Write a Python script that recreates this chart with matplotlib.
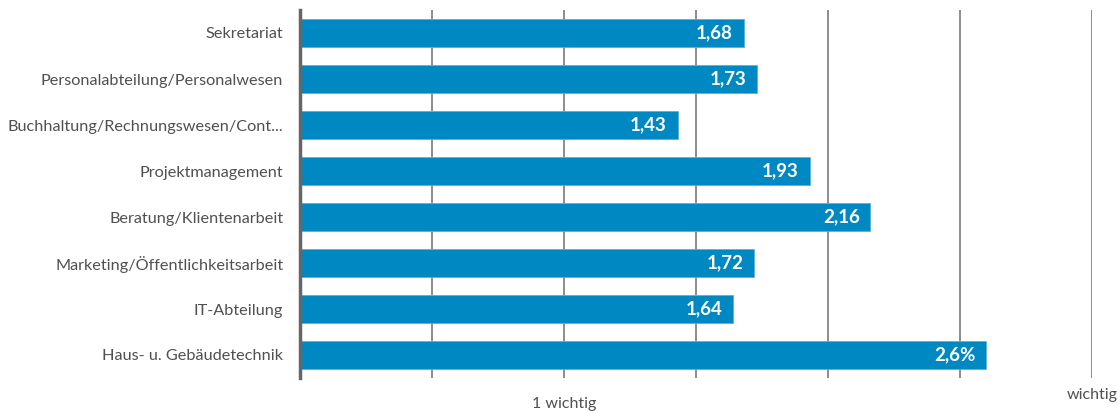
import numpy as np
import matplotlib.pyplot as plt

categories = ['Sekretariat', 'Personalabteilung/Personalwesen',
              'Buchhaltung/Rechnungswesen/Cont...', 'Projektmanagement',
              'Beratung/Klientenarbeit', 'Marketing/Öffentlichkeitsarbeit',
              'IT-Abteilung', 'Haus- u. Gebäudetechnik']
values = [1.68, 1.73, 1.43, 1.93, 2.16, 1.72, 1.64, 2.6]
value_labels = ['1,68', '1,73', '1,43', '1,93', '2,16', '1,72', '1,64', '2,6%']

plt.rcParams['font.family'] = ['Lato', 'DejaVu Sans']

fig = plt.figure(figsize=(11.2, 4.12), dpi=100)
ax = fig.add_axes([300/1120, 34/412, 792/1120, 368/412])

y = np.arange(len(categories))
ax.barh(y, values, height=0.6, color='#0088c2', edgecolor='#5ab0dc',
        linewidth=0.6, zorder=3)
for yi, v, lab in zip(y, values, value_labels):
    ax.text(v - 0.04, yi, lab, ha='right', va='center', color='white',
            fontsize=13.5, fontweight='bold', zorder=4)

ax.set_xlim(0, 3)
ax.set_ylim(len(categories) - 0.5, -0.5)
ax.set_xticks(np.arange(0.5, 3.01, 0.5))
ax.xaxis.grid(True, color='#6e6e6e', linewidth=1.1, zorder=0)
ax.tick_params(axis='x', length=0, labelbottom=False)
ax.set_yticks(y)
ax.set_yticklabels(categories, fontsize=11.7, color='#505050')
ax.tick_params(axis='y', length=0, pad=12)

for s in ['top', 'right', 'bottom']:
    ax.spines[s].set_visible(False)
ax.spines['left'].set_color('#666666')
ax.spines['left'].set_linewidth(2.5)
ax.spines['left'].set_zorder(5)

ax.text(1.0, -0.07, '1 wichtig', transform=ax.get_xaxis_transform(),
        ha='center', va='center', fontsize=11.5, color='#505050')
ax.text(3.0, -0.045, 'wichtig', transform=ax.get_xaxis_transform(),
        ha='center', va='center', fontsize=11.5, color='#505050', clip_on=False)

fig.savefig('out.png', dpi=100)
